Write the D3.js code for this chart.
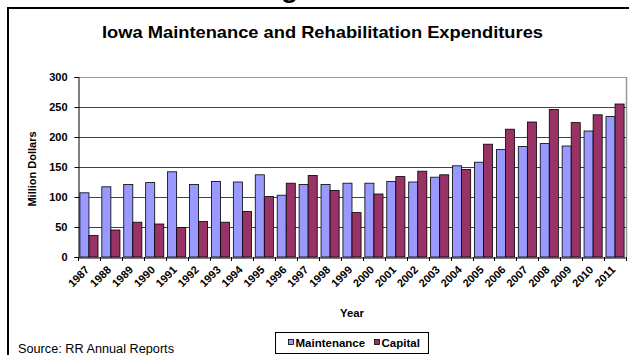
<!DOCTYPE html>
<html>
<head>
<meta charset="utf-8">
<script src="https://cdn.jsdelivr.net/npm/d3@7"></script>
<style>
  html, body { margin: 0; padding: 0; background: #fff; }
  svg { display: block; font-family: "Liberation Sans", Arial, sans-serif; }
</style>
</head>
<body>
<svg id="chart" width="629" height="355"></svg>
<script>
const years = ["1987","1988","1989","1990","1991","1992","1993","1994","1995","1996","1997","1998","1999","2000","2001","2002","2003","2004","2005","2006","2007","2008","2009","2010","2011"];
const maintenance = [107,117,121,124,142,121,126,125,137,103,121,121,123,123,126,125,133,152,158,179,184,189,185,210,234];
const capital = [36,45,58,55,49,59,58,76,101,123,136,111,74,105,134,143,137,146,188,213,225,246,224,237,255];
const seriesNames = ["Maintenance", "Capital"];
const seriesColors = ["#9999FF", "#993366"];
const yTicks = [0,50,100,150,200,250,300];

const FONT = "'Liberation Sans', Arial, sans-serif";
const svg = d3.select("#chart");

// cut-off slide title glyph at top
svg.append("text").attr("x", 281).attr("y", -3).attr("font-size", 28).attr("font-weight", "bold").attr("font-family", FONT).text("g");

// outer frame
svg.append("path").attr("d", "M8,356 L8,8 L640,8").attr("fill", "none").attr("stroke", "#000").attr("stroke-width", 2);

const pLeft = 78, pRight = 626, pTop = 77, pBottom = 257;

const x = d3.scaleBand().domain(years).range([pLeft, pRight]).paddingInner(0).paddingOuter(0);
const xs = d3.scaleBand().domain(seriesNames).range([0, x.bandwidth()]).paddingInner(0).paddingOuter(0.21);
const y = d3.scaleLinear().domain([0, 300]).range([pBottom, pTop]);

// title
svg.append("text").attr("x", 102).attr("y", 37.5)
  .attr("font-size", 16.5).attr("font-weight", "bold").attr("font-family", FONT)
  .attr("textLength", 441).attr("lengthAdjust", "spacingAndGlyphs")
  .text("Iowa Maintenance and Rehabilitation Expenditures");

// gridlines
svg.append("g").selectAll("line").data(yTicks.filter(d => d > 0)).join("line")
  .attr("x1", pLeft).attr("x2", pRight).attr("y1", d => y(d) + 0.5).attr("y2", d => y(d) + 0.5)
  .attr("stroke", d => d === 300 ? "#999" : "#444").attr("stroke-width", 1);
// plot area right border
svg.append("line").attr("x1", pRight + 0.5).attr("x2", pRight + 0.5).attr("y1", pTop).attr("y2", pBottom)
  .attr("stroke", "#999").attr("stroke-width", 1.5);

// bars
const data = years.map((yr, i) => ({ yr, vals: [maintenance[i], capital[i]] }));
const groups = svg.append("g").selectAll("g").data(data).join("g")
  .attr("transform", d => `translate(${x(d.yr)},0)`);
groups.selectAll("rect").data(d => d.vals.map((v, k) => ({ v, k }))).join("rect")
  .attr("x", d => xs(seriesNames[d.k]))
  .attr("y", d => y(d.v))
  .attr("width", xs.bandwidth())
  .attr("height", d => pBottom - y(d.v))
  .attr("fill", d => seriesColors[d.k])
  .attr("stroke", "#000").attr("stroke-width", 0.8);

// y axis
const yAxis = svg.append("g").attr("transform", `translate(${pLeft + 0.5},0)`)
  .call(d3.axisLeft(y).tickValues(yTicks).tickSize(4).tickPadding(7));
yAxis.select(".domain").attr("stroke", "#000");
yAxis.selectAll("line").attr("stroke", "#000");
yAxis.selectAll("text").attr("font-size", 11).attr("font-weight", "bold").attr("font-family", FONT).attr("fill", "#000");

// x axis
const xAxis = svg.append("g").attr("transform", `translate(0,${pBottom + 0.5})`)
  .call(d3.axisBottom(x).tickSize(0).tickPadding(0));
xAxis.select(".domain").attr("stroke", "#000");
xAxis.selectAll("text")
  .attr("font-size", 11).attr("font-weight", "bold").attr("font-family", FONT).attr("fill", "#000")
  .attr("text-anchor", "end").attr("dy", 0)
  .attr("transform", "translate(1,13) rotate(-45)");
// boundary tick marks
svg.append("g").selectAll("line").data(years.concat(["end"])).join("line")
  .attr("x1", (d, i) => Math.round(pLeft + i * x.step()) + 0.5)
  .attr("x2", (d, i) => Math.round(pLeft + i * x.step()) + 0.5)
  .attr("y1", pBottom).attr("y2", pBottom + 4).attr("stroke", "#000");

// axis titles
svg.append("text").attr("transform", "translate(36,169) rotate(-90)").attr("text-anchor", "middle")
  .attr("font-size", 11).attr("font-weight", "bold").attr("font-family", FONT).text("Million Dollars");
svg.append("text").attr("x", 352).attr("y", 316.5).attr("text-anchor", "middle")
  .attr("font-size", 11.3).attr("font-weight", "bold").attr("font-family", FONT).text("Year");

// source
svg.append("text").attr("x", 18).attr("y", 353).attr("font-size", 12.5).attr("font-family", FONT)
  .attr("textLength", 156).attr("lengthAdjust", "spacingAndGlyphs").text("Source:  RR Annual Reports");

// legend
const lg = svg.append("g");
lg.append("rect").attr("x", 275.5).attr("y", 332.5).attr("width", 153).attr("height", 21)
  .attr("fill", "#fff").attr("stroke", "#000").attr("stroke-width", 1);
const legendX = [288, 374];
seriesNames.forEach((n, k) => {
  lg.append("rect").attr("x", legendX[k] + 0.5).attr("y", 339.5).attr("width", 5).attr("height", 5)
    .attr("fill", seriesColors[k]).attr("stroke", "#000").attr("stroke-width", 0.8);
  lg.append("text").attr("x", legendX[k] + 7.5).attr("y", 347).attr("font-size", 11.5).attr("font-weight", "bold").attr("font-family", FONT).text(n);
});
</script>
</body>
</html>
